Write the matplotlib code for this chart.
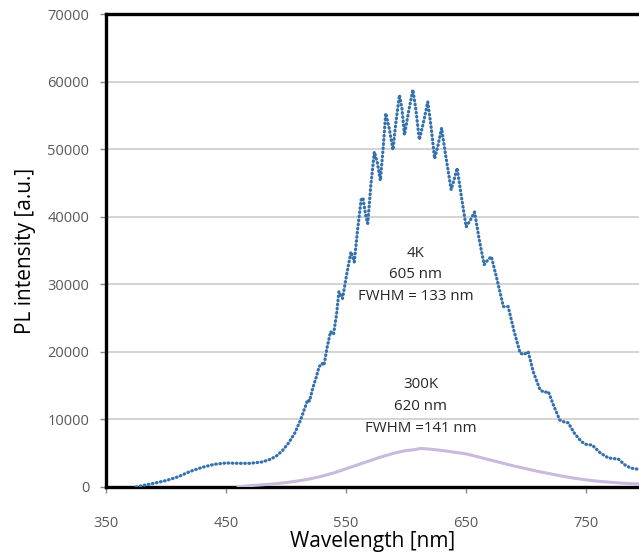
import numpy as np
import matplotlib
matplotlib.use('Agg')
import matplotlib.pyplot as plt

# 4K spectrum
wl_4k = [375, 380, 390, 400, 410, 420, 430, 440, 450, 460, 470, 480, 487, 492, 497,
         502, 507, 512, 516, 518, 519.5, 522, 525, 527.5, 530, 531.5, 534, 537, 539.5,
         542, 544, 547, 550, 554, 556.8, 559.5, 562.5, 564, 566.5, 568, 570.5, 573.5,
         576, 578.5, 581, 583, 586, 589, 591.5, 594.4, 596.5, 598.6, 602, 605.6, 608,
         611, 614.5, 618, 621, 623.7, 626.5, 629.5, 633, 637.5, 640, 642.5, 646, 650,
         653.5, 657, 661, 665, 668, 671, 676, 681, 685, 690, 695, 698, 701.7, 706,
         711.5, 715, 718.5, 723, 728, 732, 735, 740, 746, 750, 755, 762, 768.5, 773,
         777, 782, 787, 794]
pl_4k = [0, 200, 550, 950, 1500, 2300, 2900, 3350, 3550, 3500, 3500, 3700, 4100, 4600, 5400,
         6500, 7900, 9900, 11900, 12900, 12700, 14500, 16200, 17800, 18300, 18000, 20500, 23000, 22600,
         25500, 28900, 27900, 31000, 34800, 33300, 38000, 42500, 42800, 40000, 39000, 44500, 49600,
         48000, 45400, 50500, 55300, 53000, 49900, 54000, 58000, 56000, 52100, 55500, 58800, 56000,
         51400, 54000, 57000, 53000, 48600, 50500, 53100, 49000, 44000, 45500, 47200, 43000, 38500,
         39500, 40700, 36500, 32900, 33600, 34100, 30500, 26700, 26700, 23000, 19800, 19600, 20000, 17000,
         14400, 14000, 14100, 12000, 9900, 9600, 9500, 8000, 6700, 6300, 6200, 5000, 4300, 4200,
         4100, 3300, 2800, 2600]

# 300K spectrum
wl_300k = [460, 470, 480, 490, 500, 510, 520, 530, 540, 550, 560, 570, 580, 590, 600,
           606, 612, 620, 630, 640, 650, 660, 670, 680, 690, 700, 710, 720, 730, 740,
           750, 760, 770, 780, 794]
pl_300k = [0, 200, 320, 450, 650, 900, 1200, 1600, 2100, 2700, 3300, 3900, 4500, 5000, 5400,
           5500, 5700, 5600, 5400, 5150, 4900, 4450, 4000, 3550, 3100, 2700, 2300, 1950, 1600, 1300,
           1050, 850, 700, 560, 450]

fig = plt.figure(figsize=(6.39, 5.52), dpi=100)
ax = fig.add_axes([0.166, 0.1178, 0.834, 0.8568])

ax.plot(wl_300k, pl_300k, color='#c9b9dc', lw=2.2, zorder=3)
ax.plot(wl_4k, pl_4k, color='#3471ad', lw=2.3, linestyle=(0, (0.2, 1.1)),
        solid_capstyle='round', dash_capstyle='round', zorder=4)

ax.set_xlim(350, 794)
ax.set_ylim(0, 70000)
ax.set_xticks([350, 450, 550, 650, 750])
ax.set_yticks(range(0, 70001, 10000))
ax.grid(axis='y', color='#d0d0d0', lw=1.3)
ax.set_axisbelow(True)

for s in ['left', 'top', 'bottom']:
    ax.spines[s].set_linewidth(2.4)
    ax.spines[s].set_color('black')
ax.spines['right'].set_visible(False)

ax.tick_params(axis='both', colors='#8a8a8a', labelcolor='#595959', labelsize=10.5,
               length=4, width=1, direction='out')
ax.tick_params(axis='x', pad=17)
ax.tick_params(axis='y', pad=8)

ax.set_xlabel('Wavelength [nm]', fontsize=15, labelpad=0, family='Open Sans')
ax.set_ylabel('PL intensity [a.u.]', fontsize=15, labelpad=8, family='Open Sans')
for lbl in ax.get_xticklabels() + ax.get_yticklabels():
    lbl.set_family('Open Sans')

txt = dict(ha='center', va='center', fontsize=10.8, color='#262626', family='Open Sans')
ax.text(608, 34500, '4K', **txt)
ax.text(608, 31400, '605 nm', **txt)
ax.text(608, 28200, 'FWHM = 133 nm', **txt)
ax.text(612, 15200, '300K', **txt)
ax.text(612, 11900, '620 nm', **txt)
ax.text(612, 8700, 'FWHM =141 nm', **txt)

fig.savefig('out.png', dpi=100)
